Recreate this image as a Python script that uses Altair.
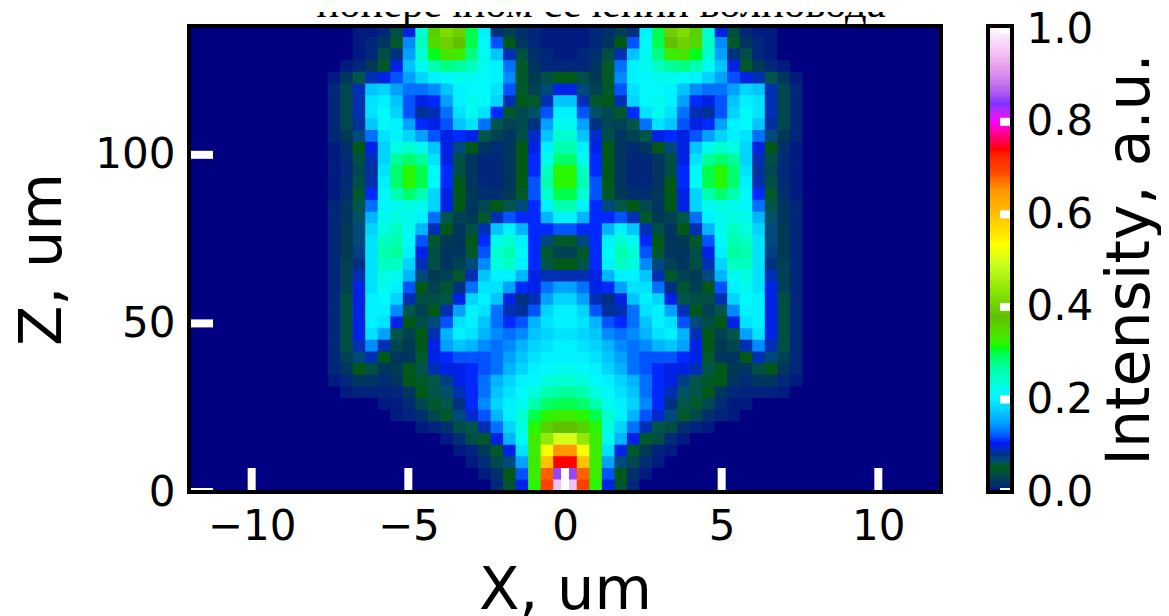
import altair as alt
import numpy as np
import pandas as pd

TITLE = "поперечном сечении волновода"
X_TICKS = [-10, -5, 0, 5, 10]
Z_TICKS = [0, 50, 100]
C_TICKS = [0.0, 0.2, 0.4, 0.6, 0.8, 1.0]
X_MAX = 12.0
Z_MAX = 138.2
DX = 0.4

CMAP_V = [0, .026, .051, .08, .106, .157, .205, .25, .312, .378, .4235, .49, .5333, .6, .65, .69, .74, .8, .838, .866, .898, .94, 1]
CMAP_C = ["#000080", "#003a50", "#005a10", "#003080", "#0000ff", "#00b0ff", "#00f8ff", "#00ffc0", "#00ff00",
          "#60c000", "#80e000", "#c8ff20", "#ffff00", "#ffc000", "#ff9800", "#ff4800", "#ff0000", "#ff00ff",
          "#8030ff", "#b060f0", "#d888ec", "#f0b8f0", "#fff6ff"]

r01 = [.005,.005,.01,.015,.03,.08,.2,.3,.4,.42,.36,.24,.1,.04,.01,.005,.005]
r02 = [.005,.005,.01,.02,.05,.12,.21,.3,.38,.4,.35,.25,.14,.055,.02,.01,.005]
r03 = [.005,.01,.015,.04,.09,.17,.22,.28,.33,.34,.31,.24,.15,.08,.04,.01,.005]
r04 = [.01,.01,.02,.055,.13,.2,.22,.25,.27,.28,.26,.22,.17,.1,.055,.025,.01,.005]
r05 = [.05,.04,.025,.055,.14,.2,.21,.22,.22,.21,.2,.18,.15,.12,.1,.09,.06,.02,.005]
r06 = [.1,.07,.03,.055,.12,.19,.21,.21,.2,.17,.14,.13,.13,.15,.18,.17,.09,.035,.01]
r07 = [.17,.09,.055,.05,.09,.18,.21,.22,.2,.15,.11,.1,.12,.17,.2,.19,.09,.035,.01]
r08 = [.2,.12,.065,.035,.055,.11,.19,.22,.19,.13,.09,.085,.12,.18,.21,.19,.09,.035,.01]
r09 = [.22,.15,.08,.035,.03,.06,.13,.19,.17,.12,.1,.11,.15,.2,.21,.17,.085,.035,.01]
r10 = [.24,.17,.095,.04,.02,.03,.06,.1,.11,.1,.12,.15,.18,.2,.19,.13,.07,.025,.01]
r11 = [.26,.2,.1,.05,.02,.012,.02,.05,.07,.1,.17,.22,.24,.23,.18,.1,.05,.015,.005]
r12 = [.29,.22,.11,.05,.02,.01,.01,.02,.04,.1,.19,.27,.29,.27,.18,.09,.04,.012,.005]
r13 = [.32,.25,.11,.05,.02,.01,.01,.02,.04,.11,.21,.3,.32,.29,.19,.085,.035,.01,.005]
r14 = [.32,.26,.12,.05,.02,.01,.01,.02,.05,.11,.21,.3,.32,.29,.2,.09,.04,.012,.005]
r15 = [.3,.24,.12,.055,.025,.015,.015,.025,.05,.1,.18,.26,.29,.26,.21,.11,.055,.015,.005]
r16 = [.26,.2,.11,.07,.06,.05,.035,.02,.05,.1,.18,.22,.23,.22,.21,.13,.06,.02,.01]
r17 = [.2,.16,.11,.11,.12,.09,.055,.025,.03,.06,.13,.2,.22,.23,.22,.16,.065,.02,.01]
r18 = [.12,.11,.11,.16,.2,.17,.09,.04,.02,.05,.09,.16,.22,.25,.23,.18,.07,.025,.01]
r19 = [.055,.07,.11,.2,.24,.22,.11,.05,.02,.025,.055,.12,.21,.26,.25,.19,.07,.025,.01]
r20 = [.03,.055,.11,.21,.26,.24,.12,.055,.02,.02,.04,.1,.2,.27,.26,.19,.075,.025,.01]
r21 = [.05,.06,.11,.2,.25,.23,.14,.07,.03,.02,.04,.09,.18,.25,.25,.19,.08,.03,.01]
r22 = [.09,.09,.1,.16,.2,.2,.17,.09,.055,.03,.025,.07,.16,.22,.23,.19,.09,.03,.01]
r23 = [.15,.13,.1,.11,.15,.19,.19,.13,.08,.045,.03,.05,.12,.2,.22,.19,.1,.03,.01]
r24 = [.18,.15,.09,.08,.1,.17,.2,.18,.1,.06,.04,.04,.09,.18,.21,.2,.1,.04,.01]
r25 = [.2,.18,.12,.085,.09,.13,.19,.2,.15,.09,.05,.03,.06,.14,.2,.2,.1,.04,.01]
r26 = [.2,.19,.16,.12,.11,.13,.17,.2,.19,.12,.07,.04,.05,.1,.19,.2,.1,.04,.01]
r27 = [.19,.18,.17,.14,.13,.14,.16,.19,.2,.16,.09,.05,.03,.06,.15,.19,.1,.04,.01]
r28 = [.2,.19,.18,.16,.14,.13,.14,.16,.17,.15,.1,.05,.025,.035,.09,.14,.09,.04,.01]
r29 = [.2,.2,.19,.17,.15,.13,.12,.12,.12,.11,.1,.055,.02,.02,.05,.09,.07,.03,.01]
r30 = [.22,.21,.2,.18,.16,.13,.12,.11,.1,.1,.09,.06,.05,.025,.02,.04,.05,.02,.01]
r31 = [.24,.23,.21,.2,.18,.16,.13,.11,.1,.075,.06,.055,.05,.02,.012,.02,.02,.01,.005]
r32 = [.27,.26,.23,.21,.19,.17,.13,.11,.09,.065,.06,.05,.02,.01,.008,.008,.008,.005]
r33 = [.3,.29,.26,.22,.2,.18,.14,.11,.08,.06,.055,.035,.012,.005,.005]
r34 = [.33,.32,.3,.24,.2,.16,.12,.095,.07,.055,.035,.015,.008,.005]
r35 = [.38,.36,.32,.23,.18,.13,.09,.06,.04,.015,.008,.005]
r36 = [.5,.44,.33,.22,.16,.1,.055,.04,.012,.005]
r37 = [.65,.53,.33,.19,.1,.055,.025,.008,.005]
r38 = [.74,.6,.33,.15,.07,.035,.012,.005]
r39 = [.85,.68,.33,.12,.05,.015,.005]
r40 = [.95,.7,.32,.1,.045,.01]
ROWS = [r01,r02,r03,r04,r05,r06,r07,r08,r09,r10,r11,r12,r13,r14,r15,r16,r17,r18,r19,r20,
        r21,r22,r23,r24,r25,r26,r27,r28,r29,r30,r31,r32,r33,r34,r35,r36,r37,r38,r39,r40]

W, H = 752, 466
FONT = "DejaVu Sans"
n_half = int(round(X_MAX / DX))
z_edges = np.linspace(Z_MAX, 0, len(ROWS) + 1)
recs = []
for i, row in enumerate(ROWS):
    for j in range(n_half):
        v = row[j] if j < len(row) else 0.0
        for s in (1, -1):
            a, b = sorted((s * j * DX, s * (j + 1) * DX))
            recs.append(dict(x=a, x2=b, z=z_edges[i + 1], z2=z_edges[i], v=v))
df = pd.DataFrame(recs)

cscale = alt.Scale(domain=CMAP_V, range=CMAP_C, clamp=True)
heat = alt.Chart(df).mark_rect(strokeWidth=1.5).encode(
    x=alt.X("x:Q", scale=alt.Scale(domain=[-X_MAX, X_MAX], nice=False),
            axis=alt.Axis(values=X_TICKS, ticks=False, domain=False, grid=False, labelFontSize=42, labelFont=FONT,
                          labelColor="black", labelPadding=14, title="X, um", titleFontSize=59, titleFont=FONT,
                          titleFontWeight="normal", titleColor="black", titlePadding=14, format="d")),
    x2="x2:Q",
    y=alt.Y("z:Q", scale=alt.Scale(domain=[0, Z_MAX], nice=False),
            axis=alt.Axis(values=Z_TICKS, ticks=False, domain=False, grid=False, labelFontSize=42, labelFont=FONT,
                          labelColor="black", labelPadding=14, title="Z, um", titleFontSize=59, titleFont=FONT,
                          titleFontWeight="normal", titleColor="black", titlePadding=22, format="d")),
    y2="z2:Q",
    color=alt.Color("v:Q", scale=cscale, legend=None),
    stroke=alt.Stroke("v:Q", scale=cscale, legend=None),
)
xt = alt.Chart(pd.DataFrame({"x": X_TICKS})).mark_rule(color="white", strokeWidth=8).encode(
    x="x:Q", y=alt.value(H - 24), y2=alt.value(H))
zt = alt.Chart(pd.DataFrame({"z": Z_TICKS})).mark_rule(color="white", strokeWidth=8).encode(
    y="z:Q", x=alt.value(0), x2=alt.value(24))
frame = alt.Chart(pd.DataFrame({"a": [0]})).mark_rect(fillOpacity=0, stroke="black", strokeWidth=4).encode(
    x=alt.value(0), x2=alt.value(W), y=alt.value(0), y2=alt.value(H))
main = alt.layer(heat, xt, zt, frame).properties(width=W, height=H)

levels = np.arange(0, 1.005, 0.004)
bar_df = pd.DataFrame({"v": levels, "v2": levels + 0.004})
CW = 24
ramp = alt.Chart(bar_df).mark_rect(strokeWidth=1.5).encode(
    x=alt.value(0), x2=alt.value(CW),
    y=alt.Y("v:Q", scale=alt.Scale(domain=[0, 1.007], nice=False),
            axis=alt.Axis(orient="right", values=C_TICKS, format=".1f", ticks=False, domain=False, grid=False,
                          labelFontSize=42, labelFont=FONT, labelColor="black", labelPadding=14,
                          title="Intensity, a.u.", titleFontSize=60, titleFont=FONT, titleFontWeight="normal",
                          titleColor="black", titleAngle=270, titleBaseline="top", titlePadding=9)),
    y2="v2:Q",
    color=alt.Color("v:Q", scale=cscale, legend=None),
    stroke=alt.Stroke("v:Q", scale=cscale, legend=None),
)
ct = alt.Chart(pd.DataFrame({"v": C_TICKS})).mark_rule(color="white", strokeWidth=8).encode(
    y="v:Q", x=alt.value(CW - 12), x2=alt.value(CW))
cframe = alt.Chart(pd.DataFrame({"a": [0]})).mark_rect(fillOpacity=0, stroke="black", strokeWidth=4).encode(
    x=alt.value(0), x2=alt.value(CW), y=alt.value(0), y2=alt.value(H))
cbar = alt.layer(ramp, ct, cframe).properties(width=CW, height=H)

head = alt.Chart(pd.DataFrame({"t": [TITLE]})).mark_text(
    font="Liberation Serif", fontSize=42.5, clip=True, align="center", baseline="alphabetic", color="black"
).encode(text="t:N", x=alt.value(412), y=alt.value(5)).properties(width=W, height=14)

body = alt.hconcat(main, cbar, spacing=43).resolve_scale(color="shared", stroke="shared")
chart = alt.vconcat(head, body, spacing=-19).properties(
    padding={"left": 5, "top": 0, "right": 0, "bottom": 0}, background="white"
).configure_view(strokeWidth=0, stroke="transparent")
chart.save("out.html", embed_options={"renderer": "svg", "actions": False})
